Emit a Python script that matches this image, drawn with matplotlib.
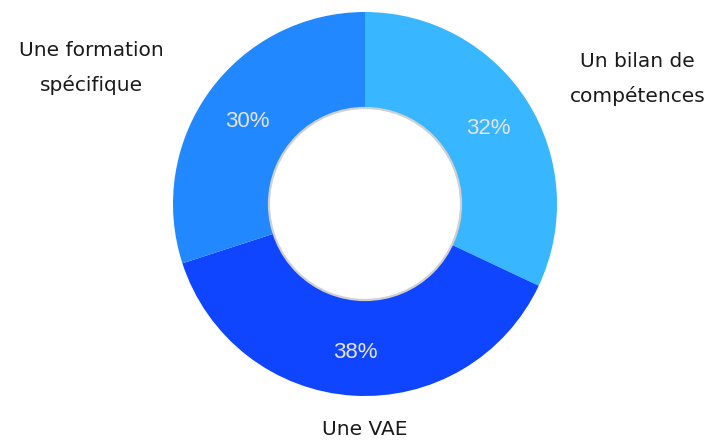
import numpy as np
import matplotlib.pyplot as plt
import matplotlib.transforms as mtransforms
from matplotlib.patches import Circle

labels = ["Un bilan de\ncompétences", "Une VAE", "Une formation\nspécifique"]
values = [32, 38, 30]
colors = ["#38B6FF", "#0F45FF", "#2288FF"]

fig = plt.figure(figsize=(7.06, 4.40), dpi=100)
ax = fig.add_axes([0, 0, 1, 1])

wedges, _, autotexts = ax.pie(
    values, colors=colors, startangle=90, counterclock=False,
    radius=1.0, autopct=lambda p: f"{p:.0f}%", pctdistance=0.76,
    wedgeprops=dict(width=0.5, linewidth=0),
    textprops=dict(color="#E4E4E4", fontsize=16,
                   family=["Liberation Sans Narrow", "Liberation Sans"]),
)
# nudge percentages down a touch
for t in autotexts:
    t.set_transform(mtransforms.offset_copy(t.get_transform(), fig, y=-3, units="dots"))

# inner hole outline
ax.add_patch(Circle((0, 0), 0.5, facecolor="white", edgecolor="#d0d0d0", lw=1.6, zorder=3))

label_pos = [(1.419, 0.651), (0.0, -1.177), (-1.424, 0.708)]
for txt, (x, y) in zip(labels, label_pos):
    ax.text(x, y, txt, ha="center", va="center", fontsize=14.5, color="#1a1a1a",
            linespacing=1.9, family="DejaVu Sans")

ax.set_xlim(-365 / 192, (706 - 365) / 192)
ax.set_ylim(-(440 - 204) / 192, 204 / 192)
ax.axis("off")

fig.savefig("out.png", dpi=100)
